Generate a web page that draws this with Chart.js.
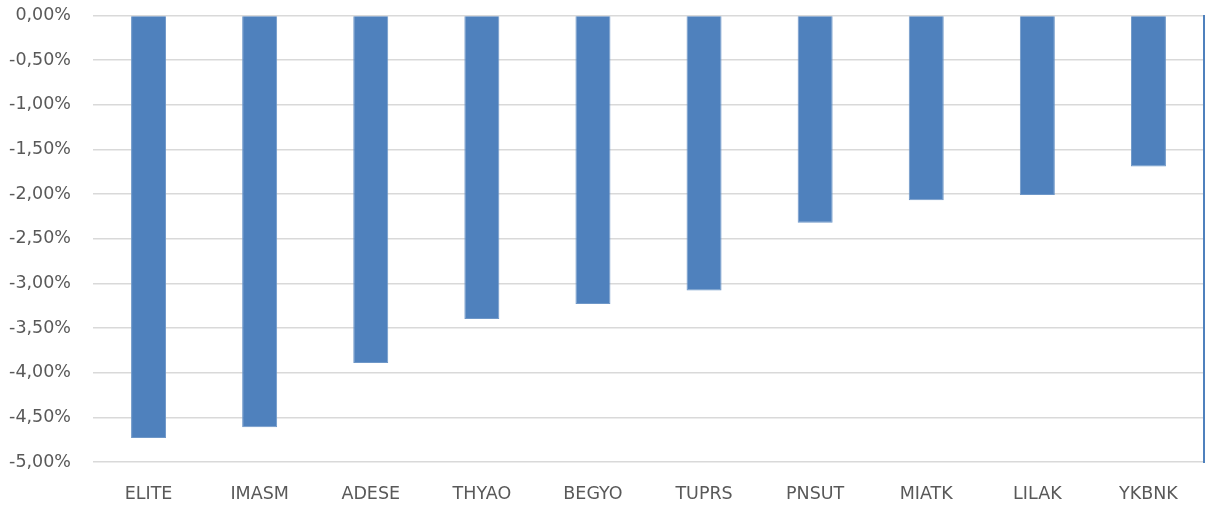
<!DOCTYPE html>
<html>
<head>
<meta charset="utf-8">
<script src="https://cdn.jsdelivr.net/npm/chart.js@4"></script>
<style>
html,body{margin:0;padding:0;background:#fff;overflow:hidden;}
#wrap{width:1208px;height:510px;position:relative;overflow:hidden;}
#inner{position:absolute;left:0;top:-17px;width:1208px;height:527px;}
</style>
</head>
<body>
<div id="wrap"><div id="inner"><canvas id="c"></canvas></div></div>
<script>
const categories = ["ELITE","IMASM","ADESE","THYAO","BEGYO","TUPRS","PNSUT","MIATK","LILAK","YKBNK"];
const changes = [-4.73,-4.61,-3.89,-3.40,-3.23,-3.08,-2.32,-2.07,-2.01,-1.69];
const yMin = -5, yMax = 0, yStep = 0.5;

function fmt(v){ return v.toFixed(2).replace('.', ',') + '%'; }

new Chart(document.getElementById('c'), {
  type: 'bar',
  data: {
    labels: categories,
    datasets: [{
      data: changes,
      backgroundColor: '#4F81BD',
      borderColor: '#6E97C8',
      borderWidth: 1,
      categoryPercentage: 1,
      barPercentage: 0.315
    }]
  },
  options: {
    responsive: true,
    maintainAspectRatio: false,
    animation: false,
    layout: { padding: { top: 0, right: 2, left: 0, bottom: 0 } },
    plugins: { legend: { display: false }, tooltip: { enabled: false } },
    scales: {
      x: {
        grid: { display: false, drawTicks: false },
        border: { display: false },
        ticks: { color: '#595959', font: { family: 'DejaVu Sans', size: 17.5 }, padding: 22 },
        afterFit(s){ s.height = 48; }
      },
      y: {
        min: yMin, max: yMax,
        grid: { color: '#D9D9D9', lineWidth: 1.5, drawTicks: false },
        border: { display: false },
        ticks: { stepSize: yStep, color: '#595959', font: { family: 'DejaVu Sans', size: 17.5 }, padding: 22, callback: v => fmt(v) },
        afterFit(s){ s.width = 93; }
      },
      y2: {
        position: 'right',
        min: yMin, max: yMax,
        grid: { display: false, drawTicks: false },
        border: { display: true, color: '#4F81BD', width: 2 },
        ticks: { display: false },
        afterFit(s){ s.width = 2; }
      }
    }
  }
});
</script>
</body>
</html>
